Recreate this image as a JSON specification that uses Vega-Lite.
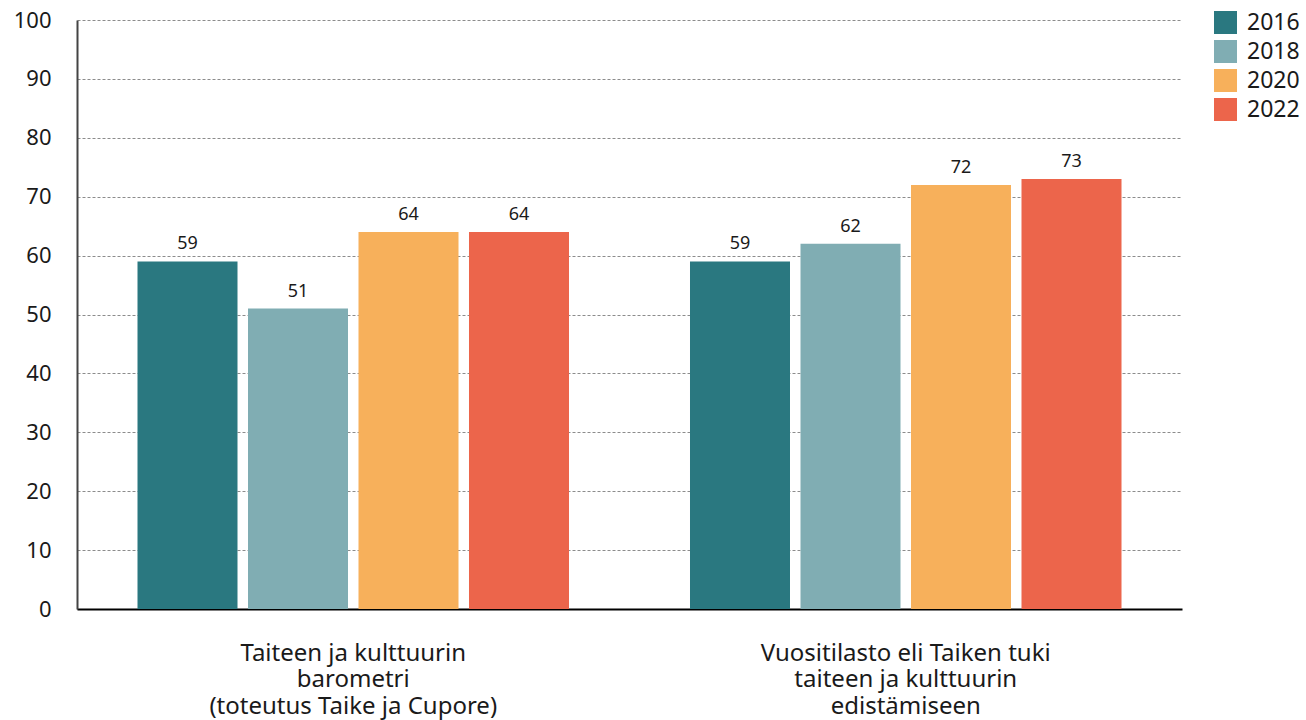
{
  "$schema": "https://vega.github.io/schema/vega-lite/v6.json",
  "width": 1105,
  "height": 589,
  "autosize": {"type": "none"},
  "padding": {"left": 77, "top": 20, "right": 124, "bottom": 111},
  "background": "white",
  "config": {
    "font": "Noto Sans",
    "view": {"stroke": null}
  },
  "data": {
    "values": [
      {"kategoria": "Taiteen ja kulttuurin|barometri|(toteutus Taike ja Cupore)", "vuosi": "2016", "arvo": 59},
      {"kategoria": "Taiteen ja kulttuurin|barometri|(toteutus Taike ja Cupore)", "vuosi": "2018", "arvo": 51},
      {"kategoria": "Taiteen ja kulttuurin|barometri|(toteutus Taike ja Cupore)", "vuosi": "2020", "arvo": 64},
      {"kategoria": "Taiteen ja kulttuurin|barometri|(toteutus Taike ja Cupore)", "vuosi": "2022", "arvo": 64},
      {"kategoria": "Vuositilasto eli Taiken tuki|taiteen ja kulttuurin|edistämiseen", "vuosi": "2016", "arvo": 59},
      {"kategoria": "Vuositilasto eli Taiken tuki|taiteen ja kulttuurin|edistämiseen", "vuosi": "2018", "arvo": 62},
      {"kategoria": "Vuositilasto eli Taiken tuki|taiteen ja kulttuurin|edistämiseen", "vuosi": "2020", "arvo": 72},
      {"kategoria": "Vuositilasto eli Taiken tuki|taiteen ja kulttuurin|edistämiseen", "vuosi": "2022", "arvo": 73}
    ]
  },
  "encoding": {
    "x": {
      "field": "kategoria",
      "type": "nominal",
      "sort": null,
      "scale": {"paddingInner": 0, "paddingOuter": 0},
      "axis": {
        "title": null,
        "labelAngle": 0,
        "labelExpr": "split(datum.label, '|')",
        "labelFontSize": 24,
        "labelLineHeight": 26.5,
        "labelLimit": 0,
        "labelColor": "#1a1a1a",
        "labelPadding": 32,
        "ticks": false,
        "domainColor": "#000000",
        "domainWidth": 2,
        "grid": false
      }
    },
    "xOffset": {
      "field": "vuosi",
      "type": "nominal",
      "scale": {"paddingInner": 0.095, "paddingOuter": 0.5475}
    },
    "y": {
      "field": "arvo",
      "type": "quantitative",
      "scale": {"domain": [0, 100]},
      "axis": {
        "title": null,
        "values": [0, 10, 20, 30, 40, 50, 60, 70, 80, 90, 100],
        "labelFontSize": 22,
        "labelColor": "#1a1a1a",
        "labelPadding": 26,
        "ticks": false,
        "domainColor": "#444444",
        "domainWidth": 2,
        "gridColor": "#8c8c8c",
        "gridDash": [3, 2],
        "gridWidth": 1
      }
    }
  },
  "layer": [
    {
      "mark": {"type": "bar"},
      "encoding": {
        "color": {
          "field": "vuosi",
          "type": "nominal",
          "scale": {
            "domain": ["2016", "2018", "2020", "2022"],
            "range": ["#2a7880", "#80adb3", "#f7b05b", "#ec654b"]
          },
          "legend": {
            "title": null,
            "orient": "none",
            "legendX": 1137,
            "legendY": -9,
            "symbolType": "square",
            "symbolSize": 529,
            "symbolStrokeWidth": 0,
            "symbolOpacity": 1,
            "labelFontSize": 23,
            "labelColor": "#1a1a1a",
            "labelOffset": 10,
            "rowPadding": 5
          }
        }
      }
    },
    {
      "mark": {"type": "text", "dy": -17, "fontSize": 18, "color": "#1a1a1a"},
      "encoding": {
        "text": {"field": "arvo", "type": "quantitative"}
      }
    }
  ]
}
